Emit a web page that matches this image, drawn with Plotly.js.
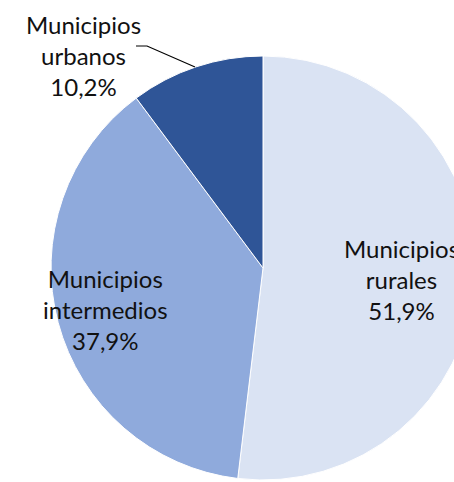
<!DOCTYPE html>
<html>
<head>
<meta charset="utf-8">
<script src="https://cdn.plot.ly/plotly-3.0.1.min.js"></script>
<style>
html,body{margin:0;padding:0;overflow:hidden;background:#fff;width:454px;height:482px;}
#chart{width:480px;height:482px;}
</style>
</head>
<body>
<div id="chart"></div>
<script>
const categories = ["Municipios rurales", "Municipios intermedios", "Municipios urbanos"];
const labelLines = [["Municipios", "rurales"], ["Municipios", "intermedios"], ["Municipios", "urbanos"]];
const shares = [51.9, 37.9, 10.2];
const colors = ["#DAE3F3", "#8FAADC", "#2F5597"];

const W = 480, H = 482;
const px = x => x / W;
const py = y => 1 - y / H;

const fmt = v => v.toFixed(1).replace(".", ",") + "%";
const labelPos = [[401, 279], [105, 309], [83, 55]];

const annotations = categories.map((c, i) => ({
  xref: "paper", yref: "paper",
  x: px(labelPos[i][0]), y: py(labelPos[i][1]),
  xanchor: "center", yanchor: "middle",
  text: labelLines[i].join("<br>") + "<br>" + fmt(shares[i]),
  showarrow: false,
  align: "center",
  font: {family: "Lato, 'Open Sans', sans-serif", size: 24, color: "#111"}
}));

const data = [{
  type: "pie",
  labels: categories,
  values: shares,
  sort: false,
  direction: "clockwise",
  rotation: 0,
  marker: {colors: colors, line: {color: "#ffffff", width: 1}},
  textinfo: "none",
  hoverinfo: "label+percent",
  domain: {x: [px(51), px(475)], y: [py(480), py(56)]}
}];

const layout = {
  width: W, height: H,
  margin: {l: 0, r: 0, t: 0, b: 0},
  paper_bgcolor: "#ffffff",
  showlegend: false,
  annotations: annotations,
  shapes: [{
    type: "path", xref: "paper", yref: "paper",
    path: `M ${px(136)} ${py(46)} L ${px(147)} ${py(46)} L ${px(195)} ${py(67)}`,
    line: {color: "#000", width: 1.2}
  }]
};

Plotly.newPlot("chart", data, layout, {displayModeBar: false, staticPlot: true});
</script>
</body>
</html>
